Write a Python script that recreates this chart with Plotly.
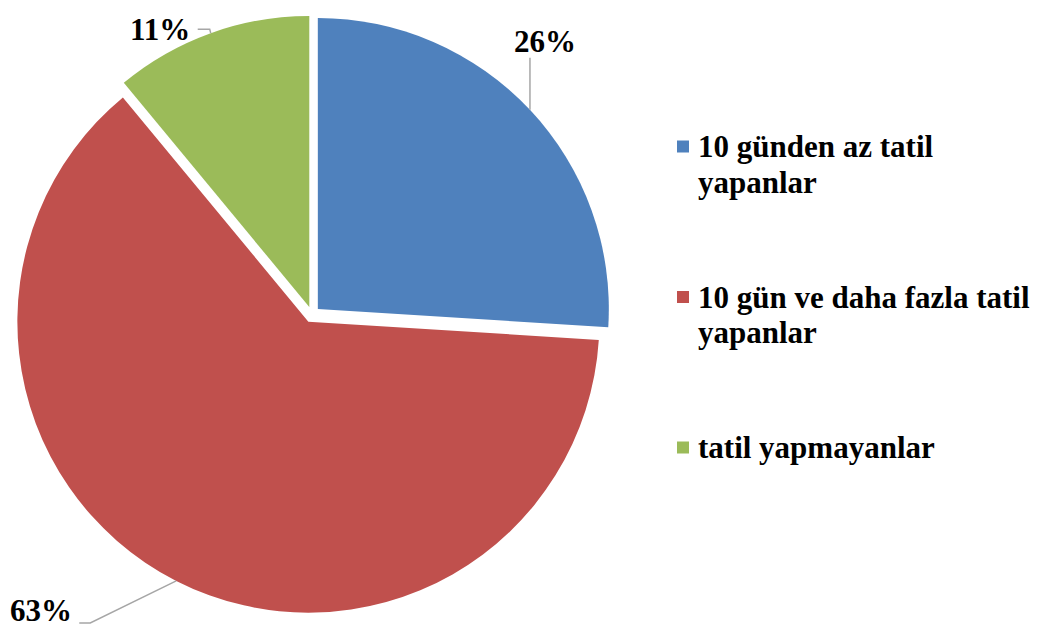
import math
import textwrap
import plotly.graph_objects as go

# ---- data ----
categories = ["10 günden az tatil yapanlar", "10 gün ve daha fazla tatil yapanlar", "tatil yapmayanlar"]
values = [26, 63, 11]
colors = ["#4F81BD", "#C0504D", "#9BBB59"]

# ---- layout / style ----
W, H = 1055, 635
OFF = 8                       # page body margin (px)
CX, CY = 312, 314.5          # pie centre (px, screenshot coords)
R = 291                       # pie radius (px)
PULL = 0.0275
FONT = "Liberation Serif"
FS = 31
LEADER = "#A6A6A6"

label_offsets = [(15, -68), (-135, 30), (-51, -4)]
leader_offsets = [[(0, -52)], [(-86, 42), (-97, 42)], [(-1, -4), (-13, -4)]]

LEG_X_MARK = 677
LEG_X_TEXT = 696
LEG_TOP = 146.5
LEG_STEP = 150.5
LEG_LINE = 35.5
MARK = 12


def paper(x, y):
    return (x - OFF) / W, 1 - (y - OFF) / H


half = R * (1 + PULL)
x0, y0 = paper(CX - half, CY + half)
x1, y1 = paper(CX + half, CY - half)

fig = go.Figure(go.Pie(
    labels=categories, values=values, sort=False, direction="clockwise", rotation=0,
    pull=[PULL] * len(values),
    marker=dict(colors=colors, line=dict(color="white", width=0)),
    textinfo="none", hoverinfo="label+percent", showlegend=False,
    domain=dict(x=[x0, x1], y=[y0, y1]),
))

total = sum(values)
cum = 0
annotations = []
shapes = []
for i, v in enumerate(values):
    mid = math.radians((cum + v / 2) / total * 360)
    cum += v
    ex = CX + R * (1 + PULL) * math.sin(mid)
    ey = CY - R * (1 + PULL) * math.cos(mid)
    pts = [(ex, ey)] + [(ex + ox, ey + oy) for ox, oy in leader_offsets[i]]
    path = "M " + " L ".join("{:.5f} {:.5f}".format(*paper(px, py)) for px, py in pts)
    shapes.append(dict(type="path", xref="paper", yref="paper", path=path,
                       line=dict(color=LEADER, width=1.5)))
    lx, ly = paper(ex + label_offsets[i][0], ey + label_offsets[i][1])
    annotations.append(dict(x=lx, y=ly, xref="paper", yref="paper", showarrow=False,
                            text="<b>{}%</b>".format(round(v / total * 100)),
                            font=dict(family=FONT, size=FS, color="black"),
                            xanchor="center", yanchor="middle"))

# manual legend
for i, (cat, col) in enumerate(zip(categories, colors)):
    cy = LEG_TOP + i * LEG_STEP
    mx0, my0 = paper(LEG_X_MARK, cy + MARK / 2)
    mx1, my1 = paper(LEG_X_MARK + MARK, cy - MARK / 2)
    shapes.append(dict(type="rect", xref="paper", yref="paper", x0=mx0, x1=mx1, y0=my0, y1=my1,
                       fillcolor=col, line=dict(width=0)))
    for j, line in enumerate(textwrap.wrap(cat, 26)):
        tx, ty = paper(LEG_X_TEXT, cy + j * LEG_LINE)
        annotations.append(dict(x=tx, y=ty, xref="paper", yref="paper", showarrow=False,
                                text="<b>{}</b>".format(line),
                                font=dict(family=FONT, size=FS, color="black"),
                                xanchor="left", yanchor="middle"))

fig.update_layout(
    width=W, height=H, margin=dict(l=0, r=0, t=0, b=0),
    paper_bgcolor="white", plot_bgcolor="white",
    font=dict(family=FONT),
    showlegend=False, annotations=annotations, shapes=shapes,
)

fig.write_html("out.html")
